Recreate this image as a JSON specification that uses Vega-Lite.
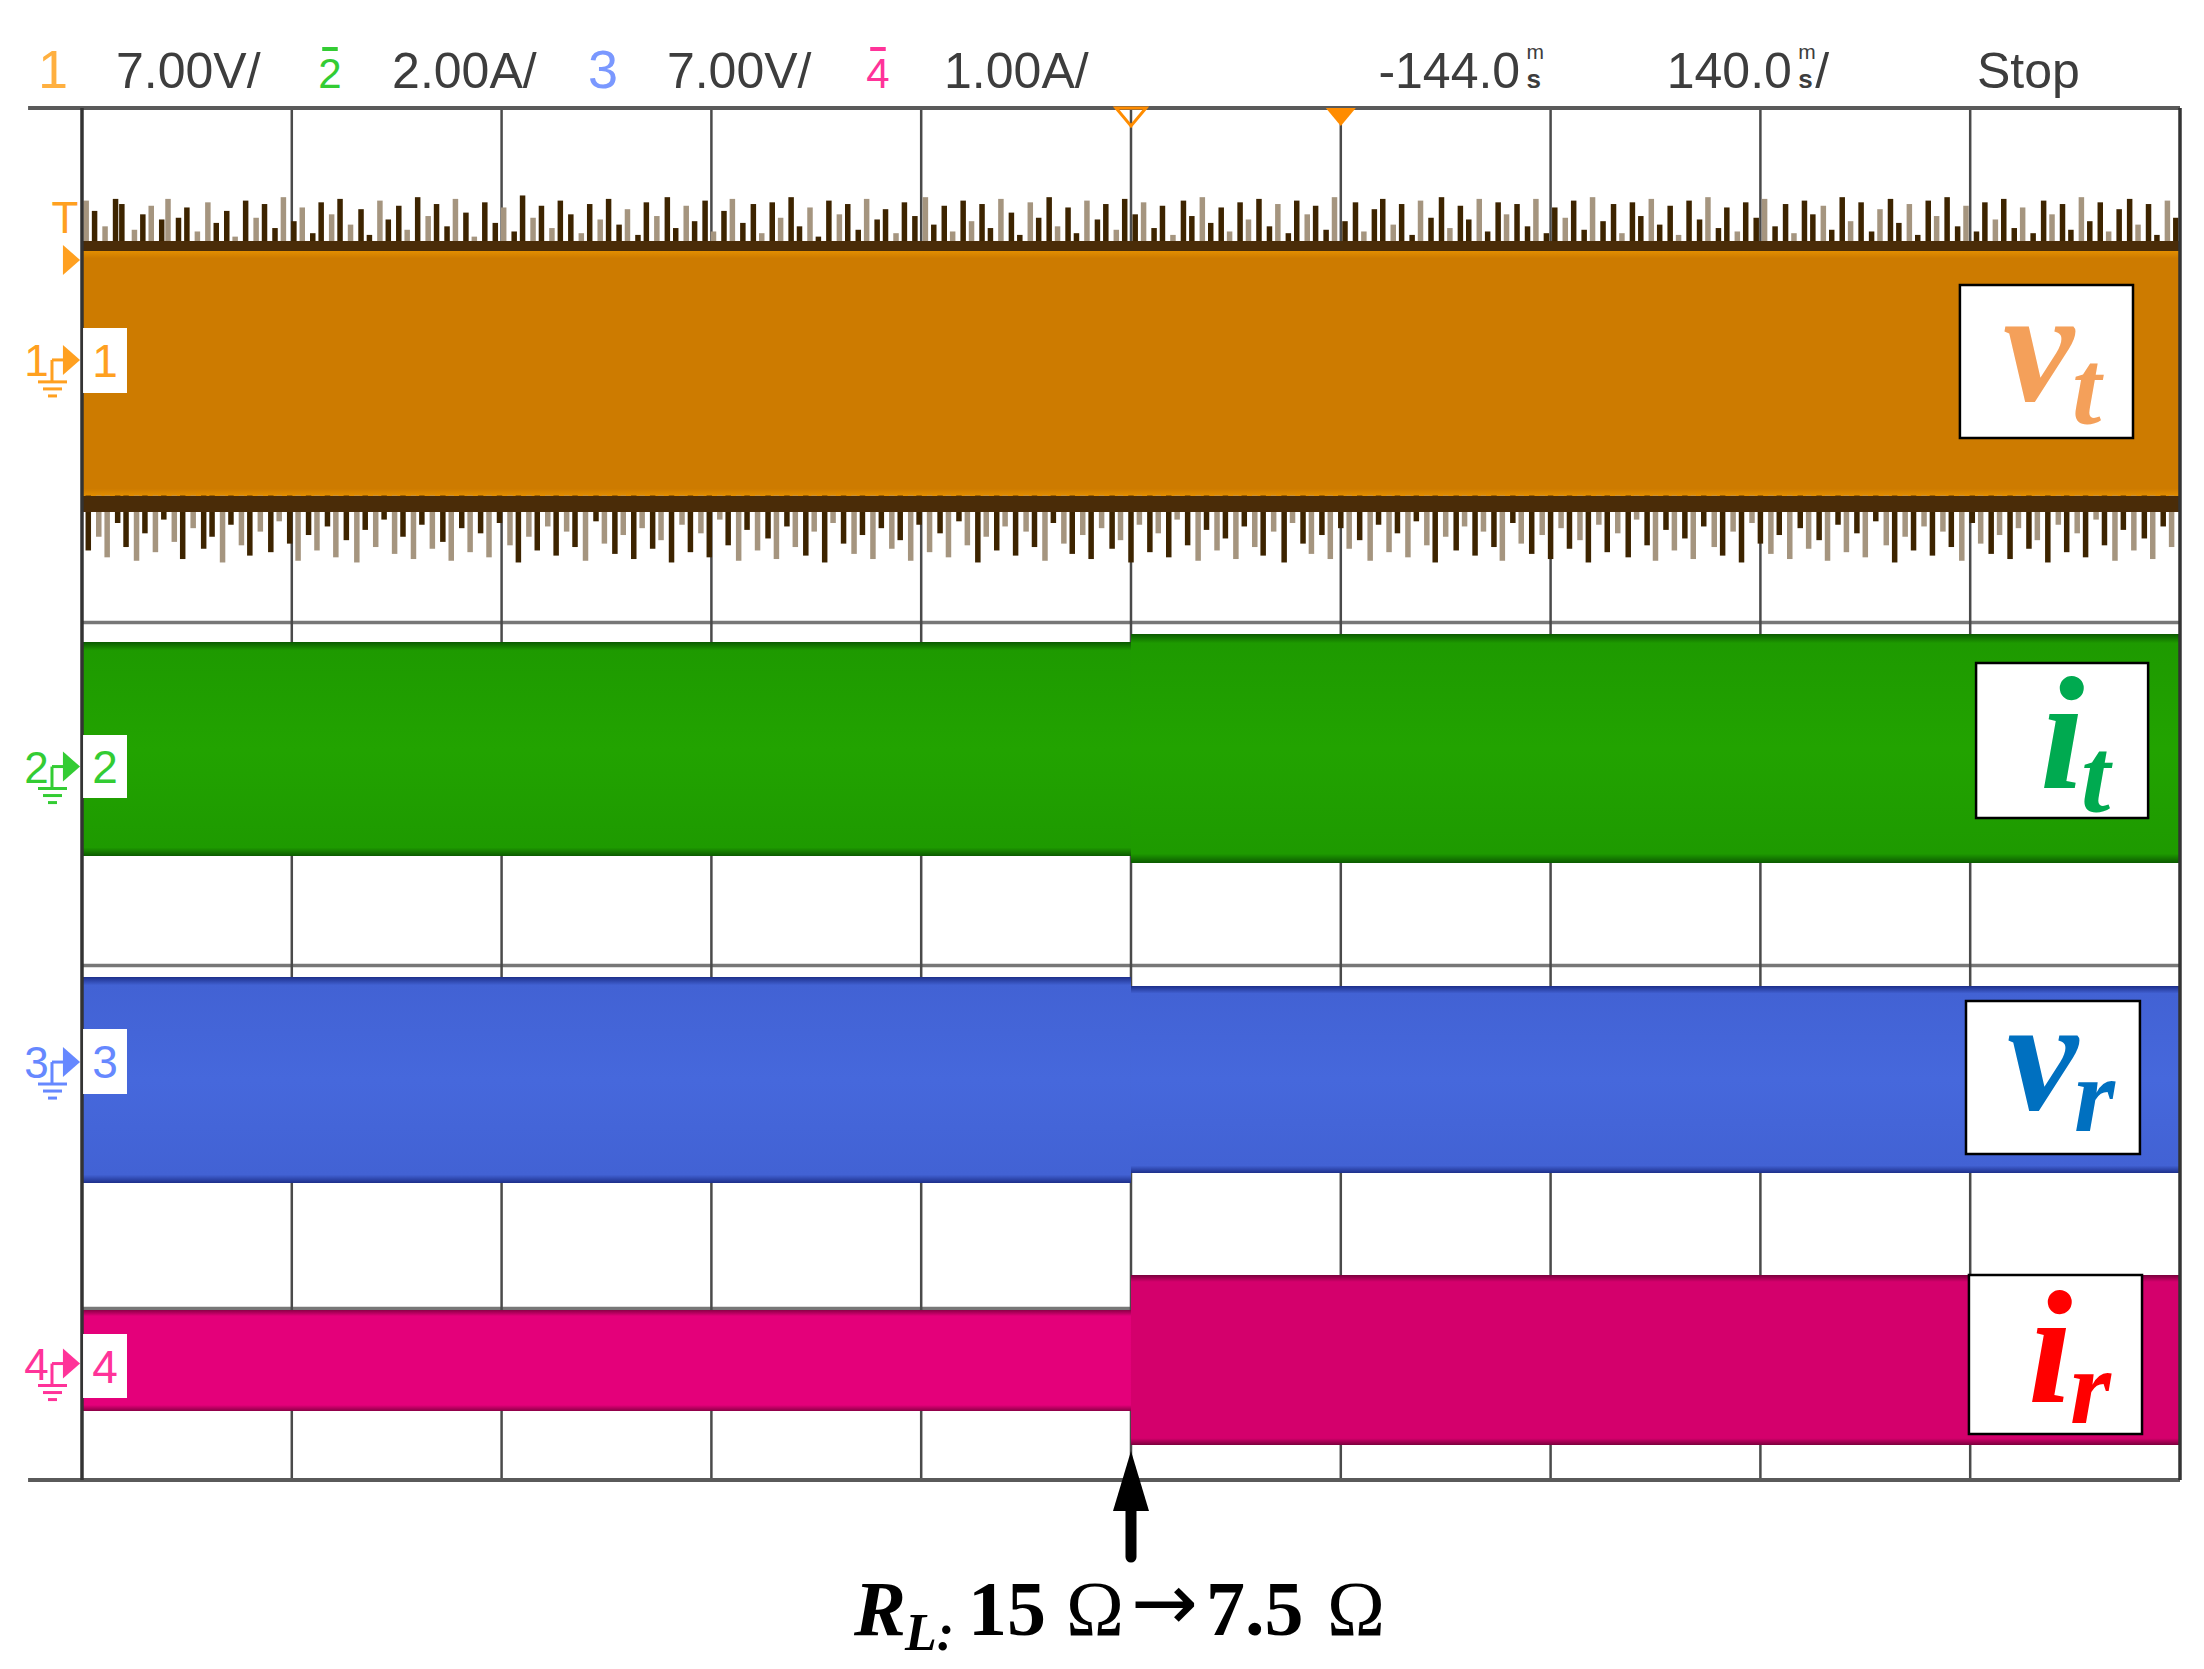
{
"$schema": "https://vega.github.io/schema/vega-lite/v6.json",
"width": 2204, "height": 1669, "padding": 0, "autosize": {"type": "none"},
"background": "white",
"config": {"view": {"stroke": null}},
"resolve": {"scale": {"color": "independent"}},
"encoding": {
 "x": {"field": "x", "type": "quantitative", "scale": {"domain": [-0.3908, 10.1144], "nice": false, "zero": false}, "axis": null},
 "y": {"field": "y", "type": "quantitative", "scale": {"domain": [-1.102, 8.6297], "nice": false, "zero": false}, "axis": null}
},
"datasets": {
 "gridV": [{"x":1,"y":0,"y2":8},{"x":2,"y":0,"y2":8},{"x":3,"y":0,"y2":8},{"x":4,"y":0,"y2":8},{"x":5,"y":0,"y2":8},{"x":6,"y":0,"y2":8},{"x":7,"y":0,"y2":8},{"x":8,"y":0,"y2":8},{"x":9,"y":0,"y2":8}],
 "gridH": [{"x":0,"x2":10,"y":1},{"x":0,"x2":10,"y":2},{"x":0,"x2":10,"y":3},{"x":0,"x2":10,"y":4},{"x":0,"x2":10,"y":5},{"x":0,"x2":10,"y":6},{"x":0,"x2":10,"y":7}],
 "ticks": [{"y":0.2},{"y":0.4},{"y":0.6},{"y":0.8},{"y":1.2},{"y":1.4},{"y":1.6},{"y":1.8},{"y":2.2},{"y":2.4},{"y":2.6},{"y":2.8},{"y":3.2},{"y":3.4},{"y":3.6},{"y":3.8},{"y":4.2},{"y":4.4},{"y":4.6},{"y":4.8},{"y":5.2},{"y":5.4},{"y":5.6},{"y":5.8},{"y":6.2},{"y":6.4},{"y":6.6},{"y":6.8},{"y":7.2},{"y":7.4},{"y":7.6},{"y":7.8}],
 "borderH": [{"x":-0.257,"x2":10,"y":8},{"x":-0.257,"x2":10,"y":0}],
 "borderV": [{"x":0,"y":0,"y2":8},{"x":10,"y":0,"y2":8}],
 "bands": [
  {"id":"o","x":0,"x2":10,"y":7.166,"y2":5.738},
  {"id":"g","x":0,"x2":5,"y":4.886,"y2":3.638},
  {"id":"g","x":5,"x2":10,"y":4.933,"y2":3.598},
  {"id":"b","x":0,"x2":5,"y":2.933,"y2":1.732},
  {"id":"b","x":5,"x2":10,"y":2.88,"y2":1.79},
  {"id":"pl","x":0,"x2":5,"y":0.991,"y2":0.402},
  {"id":"pr","x":5,"x2":10,"y":1.195,"y2":0.204}
 ],
 "strips": [{"x":0,"x2":10,"y":7.225,"y2":7.166},{"x":0,"x2":10,"y":5.738,"y2":5.645}],
 "spikesTop": [
{"x":0.02,"y":7.46,"k":"l"},{"x":0.06,"y":7.4,"k":"d"},{"x":0.11,"y":7.31,"k":"l"},{"x":0.16,"y":7.47,"k":"d"},{"x":0.19,"y":7.44,"k":"d"},{"x":0.25,"y":7.29,"k":"l"},{"x":0.29,"y":7.38,"k":"d"},{"x":0.33,"y":7.43,"k":"l"},{"x":0.38,"y":7.35,"k":"d"},{"x":0.41,"y":7.47,"k":"l"},{"x":0.46,"y":7.36,"k":"d"},{"x":0.5,"y":7.42,"k":"d"},{"x":0.55,"y":7.28,"k":"l"},{"x":0.6,"y":7.45,"k":"l"},{"x":0.64,"y":7.33,"k":"d"},{"x":0.69,"y":7.4,"k":"d"},{"x":0.73,"y":7.25,"k":"l"},{"x":0.78,"y":7.46,"k":"d"},{"x":0.83,"y":7.36,"k":"l"},{"x":0.87,"y":7.44,"k":"d"},{"x":0.92,"y":7.3,"k":"d"},{"x":0.96,"y":7.48,"k":"l"},{"x":1.01,"y":7.34,"k":"d"},{"x":1.05,"y":7.42,"k":"l"},{"x":1.1,"y":7.27,"k":"d"},{"x":1.14,"y":7.45,"k":"d"},{"x":1.19,"y":7.38,"k":"l"},{"x":1.23,"y":7.47,"k":"d"},{"x":1.28,"y":7.32,"k":"l"},{"x":1.33,"y":7.41,"k":"d"},{"x":1.37,"y":7.26,"k":"d"},{"x":1.42,"y":7.46,"k":"l"},{"x":1.46,"y":7.35,"k":"d"},{"x":1.51,"y":7.43,"k":"d"},{"x":1.55,"y":7.29,"k":"l"},{"x":1.6,"y":7.48,"k":"d"},{"x":1.65,"y":7.37,"k":"l"},{"x":1.69,"y":7.44,"k":"d"},{"x":1.74,"y":7.31,"k":"d"},{"x":1.78,"y":7.47,"k":"l"},{"x":1.83,"y":7.39,"k":"d"},{"x":1.87,"y":7.25,"k":"l"},{"x":1.92,"y":7.45,"k":"d"},{"x":1.97,"y":7.33,"k":"d"},{"x":2.01,"y":7.42,"k":"l"},{"x":2.06,"y":7.28,"k":"d"},{"x":2.1,"y":7.49,"k":"d"},{"x":2.15,"y":7.36,"k":"l"},{"x":2.19,"y":7.43,"k":"d"},{"x":2.24,"y":7.3,"k":"l"},{"x":2.28,"y":7.46,"k":"d"},{"x":2.33,"y":7.38,"k":"d"},{"x":2.38,"y":7.27,"k":"l"},{"x":2.42,"y":7.44,"k":"d"},{"x":2.47,"y":7.35,"k":"l"},{"x":2.51,"y":7.47,"k":"d"},{"x":2.56,"y":7.32,"k":"d"},{"x":2.6,"y":7.41,"k":"l"},{"x":2.65,"y":7.26,"k":"d"},{"x":2.69,"y":7.45,"k":"d"},{"x":2.74,"y":7.37,"k":"l"},{"x":2.79,"y":7.48,"k":"d"},{"x":2.83,"y":7.3,"k":"d"},{"x":2.88,"y":7.43,"k":"l"},{"x":2.92,"y":7.34,"k":"d"},{"x":2.97,"y":7.46,"k":"d"},{"x":3.01,"y":7.28,"k":"l"},{"x":3.06,"y":7.4,"k":"d"},{"x":3.1,"y":7.47,"k":"l"},{"x":3.15,"y":7.33,"k":"d"},{"x":3.2,"y":7.44,"k":"d"},{"x":3.24,"y":7.27,"k":"l"},{"x":3.29,"y":7.45,"k":"d"},{"x":3.33,"y":7.36,"k":"l"},{"x":3.38,"y":7.48,"k":"d"},{"x":3.42,"y":7.31,"k":"d"},{"x":3.47,"y":7.42,"k":"l"},{"x":3.51,"y":7.25,"k":"d"},{"x":3.56,"y":7.46,"k":"d"},{"x":3.61,"y":7.38,"k":"l"},{"x":3.65,"y":7.44,"k":"d"},{"x":3.7,"y":7.29,"k":"d"},{"x":3.74,"y":7.47,"k":"l"},{"x":3.79,"y":7.35,"k":"d"},{"x":3.83,"y":7.41,"k":"d"},{"x":3.88,"y":7.27,"k":"l"},{"x":3.92,"y":7.45,"k":"d"},{"x":3.97,"y":7.37,"k":"d"},{"x":4.02,"y":7.48,"k":"l"},{"x":4.06,"y":7.32,"k":"d"},{"x":4.11,"y":7.43,"k":"d"},{"x":4.15,"y":7.28,"k":"l"},{"x":4.2,"y":7.46,"k":"d"},{"x":4.24,"y":7.34,"k":"l"},{"x":4.29,"y":7.44,"k":"d"},{"x":4.33,"y":7.3,"k":"d"},{"x":4.38,"y":7.47,"k":"l"},{"x":4.43,"y":7.39,"k":"d"},{"x":4.47,"y":7.26,"k":"d"},{"x":4.52,"y":7.45,"k":"l"},{"x":4.56,"y":7.36,"k":"d"},{"x":4.61,"y":7.48,"k":"d"},{"x":4.65,"y":7.31,"k":"l"},{"x":4.7,"y":7.42,"k":"d"},{"x":4.74,"y":7.27,"k":"d"},{"x":4.79,"y":7.46,"k":"l"},{"x":4.84,"y":7.35,"k":"d"},{"x":4.88,"y":7.44,"k":"d"},{"x":4.93,"y":7.29,"k":"l"},{"x":4.97,"y":7.47,"k":"d"},{"x":5.02,"y":7.38,"k":"d"},{"x":5.06,"y":7.45,"k":"l"},{"x":5.11,"y":7.3,"k":"d"},{"x":5.15,"y":7.43,"k":"d"},{"x":5.2,"y":7.26,"k":"l"},{"x":5.25,"y":7.46,"k":"d"},{"x":5.29,"y":7.37,"k":"d"},{"x":5.34,"y":7.48,"k":"l"},{"x":5.38,"y":7.33,"k":"d"},{"x":5.43,"y":7.42,"k":"d"},{"x":5.47,"y":7.28,"k":"l"},{"x":5.52,"y":7.45,"k":"d"},{"x":5.56,"y":7.35,"k":"l"},{"x":5.61,"y":7.47,"k":"d"},{"x":5.66,"y":7.31,"k":"d"},{"x":5.7,"y":7.44,"k":"l"},{"x":5.75,"y":7.27,"k":"d"},{"x":5.79,"y":7.46,"k":"d"},{"x":5.84,"y":7.38,"k":"l"},{"x":5.88,"y":7.43,"k":"d"},{"x":5.93,"y":7.29,"k":"d"},{"x":5.97,"y":7.48,"k":"l"},{"x":6.02,"y":7.34,"k":"d"},{"x":6.07,"y":7.45,"k":"d"},{"x":6.11,"y":7.28,"k":"l"},{"x":6.16,"y":7.41,"k":"d"},{"x":6.2,"y":7.47,"k":"d"},{"x":6.25,"y":7.32,"k":"l"},{"x":6.29,"y":7.44,"k":"d"},{"x":6.34,"y":7.26,"k":"d"},{"x":6.38,"y":7.46,"k":"l"},{"x":6.43,"y":7.36,"k":"d"},{"x":6.48,"y":7.48,"k":"d"},{"x":6.52,"y":7.3,"k":"l"},{"x":6.57,"y":7.43,"k":"d"},{"x":6.61,"y":7.35,"k":"d"},{"x":6.66,"y":7.47,"k":"l"},{"x":6.7,"y":7.28,"k":"d"},{"x":6.75,"y":7.45,"k":"d"},{"x":6.79,"y":7.38,"k":"l"},{"x":6.84,"y":7.44,"k":"d"},{"x":6.89,"y":7.31,"k":"d"},{"x":6.93,"y":7.47,"k":"l"},{"x":6.98,"y":7.27,"k":"d"},{"x":7.02,"y":7.42,"k":"d"},{"x":7.07,"y":7.36,"k":"l"},{"x":7.11,"y":7.46,"k":"d"},{"x":7.16,"y":7.29,"k":"d"},{"x":7.2,"y":7.48,"k":"l"},{"x":7.25,"y":7.34,"k":"d"},{"x":7.3,"y":7.44,"k":"d"},{"x":7.34,"y":7.27,"k":"l"},{"x":7.39,"y":7.45,"k":"d"},{"x":7.43,"y":7.37,"k":"d"},{"x":7.48,"y":7.47,"k":"l"},{"x":7.52,"y":7.32,"k":"d"},{"x":7.57,"y":7.43,"k":"d"},{"x":7.61,"y":7.26,"k":"l"},{"x":7.66,"y":7.46,"k":"d"},{"x":7.71,"y":7.35,"k":"d"},{"x":7.75,"y":7.48,"k":"l"},{"x":7.8,"y":7.3,"k":"d"},{"x":7.84,"y":7.42,"k":"d"},{"x":7.89,"y":7.28,"k":"l"},{"x":7.93,"y":7.45,"k":"d"},{"x":7.98,"y":7.36,"k":"d"},{"x":8.02,"y":7.47,"k":"l"},{"x":8.07,"y":7.31,"k":"d"},{"x":8.12,"y":7.44,"k":"d"},{"x":8.16,"y":7.27,"k":"l"},{"x":8.21,"y":7.46,"k":"d"},{"x":8.25,"y":7.38,"k":"d"},{"x":8.3,"y":7.43,"k":"l"},{"x":8.34,"y":7.29,"k":"d"},{"x":8.39,"y":7.48,"k":"d"},{"x":8.43,"y":7.34,"k":"l"},{"x":8.48,"y":7.45,"k":"d"},{"x":8.53,"y":7.28,"k":"d"},{"x":8.57,"y":7.41,"k":"l"},{"x":8.62,"y":7.47,"k":"d"},{"x":8.66,"y":7.33,"k":"d"},{"x":8.71,"y":7.44,"k":"l"},{"x":8.75,"y":7.26,"k":"d"},{"x":8.8,"y":7.46,"k":"d"},{"x":8.84,"y":7.37,"k":"l"},{"x":8.89,"y":7.48,"k":"d"},{"x":8.94,"y":7.31,"k":"d"},{"x":8.98,"y":7.43,"k":"l"},{"x":9.03,"y":7.28,"k":"d"},{"x":9.07,"y":7.45,"k":"d"},{"x":9.12,"y":7.35,"k":"l"},{"x":9.16,"y":7.47,"k":"d"},{"x":9.21,"y":7.3,"k":"d"},{"x":9.25,"y":7.42,"k":"l"},{"x":9.3,"y":7.27,"k":"d"},{"x":9.35,"y":7.46,"k":"d"},{"x":9.39,"y":7.38,"k":"l"},{"x":9.44,"y":7.44,"k":"d"},{"x":9.48,"y":7.29,"k":"d"},{"x":9.53,"y":7.48,"k":"l"},{"x":9.57,"y":7.34,"k":"d"},{"x":9.62,"y":7.45,"k":"d"},{"x":9.66,"y":7.28,"k":"l"},{"x":9.71,"y":7.41,"k":"d"},{"x":9.76,"y":7.47,"k":"d"},{"x":9.8,"y":7.32,"k":"l"},{"x":9.85,"y":7.44,"k":"d"},{"x":9.89,"y":7.26,"k":"d"},{"x":9.94,"y":7.46,"k":"l"},{"x":9.98,"y":7.36,"k":"d"}
 ],
 "spikesBot": [
{"x":0.03,"y":5.42,"k":"d"},{"x":0.08,"y":5.5,"k":"l"},{"x":0.12,"y":5.38,"k":"l"},{"x":0.17,"y":5.58,"k":"d"},{"x":0.21,"y":5.44,"k":"d"},{"x":0.26,"y":5.36,"k":"l"},{"x":0.3,"y":5.52,"k":"d"},{"x":0.35,"y":5.41,"k":"l"},{"x":0.39,"y":5.6,"k":"d"},{"x":0.44,"y":5.47,"k":"l"},{"x":0.48,"y":5.37,"k":"d"},{"x":0.53,"y":5.55,"k":"l"},{"x":0.58,"y":5.43,"k":"d"},{"x":0.62,"y":5.5,"k":"d"},{"x":0.67,"y":5.35,"k":"l"},{"x":0.71,"y":5.57,"k":"d"},{"x":0.76,"y":5.45,"k":"l"},{"x":0.8,"y":5.39,"k":"d"},{"x":0.85,"y":5.53,"k":"l"},{"x":0.9,"y":5.41,"k":"d"},{"x":0.94,"y":5.59,"k":"l"},{"x":0.99,"y":5.46,"k":"d"},{"x":1.03,"y":5.36,"k":"l"},{"x":1.08,"y":5.51,"k":"d"},{"x":1.12,"y":5.42,"k":"l"},{"x":1.17,"y":5.56,"k":"d"},{"x":1.21,"y":5.38,"k":"l"},{"x":1.26,"y":5.48,"k":"d"},{"x":1.31,"y":5.35,"k":"l"},{"x":1.35,"y":5.54,"k":"d"},{"x":1.4,"y":5.44,"k":"l"},{"x":1.44,"y":5.6,"k":"d"},{"x":1.49,"y":5.4,"k":"l"},{"x":1.53,"y":5.5,"k":"d"},{"x":1.58,"y":5.37,"k":"l"},{"x":1.62,"y":5.57,"k":"d"},{"x":1.67,"y":5.43,"k":"l"},{"x":1.72,"y":5.47,"k":"d"},{"x":1.76,"y":5.36,"k":"l"},{"x":1.81,"y":5.55,"k":"d"},{"x":1.85,"y":5.41,"k":"l"},{"x":1.9,"y":5.52,"k":"d"},{"x":1.94,"y":5.38,"k":"l"},{"x":1.99,"y":5.58,"k":"d"},{"x":2.04,"y":5.45,"k":"l"},{"x":2.08,"y":5.35,"k":"d"},{"x":2.13,"y":5.5,"k":"l"},{"x":2.17,"y":5.42,"k":"d"},{"x":2.22,"y":5.56,"k":"l"},{"x":2.26,"y":5.39,"k":"d"},{"x":2.31,"y":5.53,"k":"l"},{"x":2.35,"y":5.44,"k":"d"},{"x":2.4,"y":5.36,"k":"l"},{"x":2.45,"y":5.59,"k":"d"},{"x":2.49,"y":5.46,"k":"l"},{"x":2.54,"y":5.4,"k":"d"},{"x":2.58,"y":5.51,"k":"l"},{"x":2.63,"y":5.37,"k":"d"},{"x":2.67,"y":5.55,"k":"l"},{"x":2.72,"y":5.43,"k":"d"},{"x":2.76,"y":5.48,"k":"l"},{"x":2.81,"y":5.35,"k":"d"},{"x":2.86,"y":5.57,"k":"l"},{"x":2.9,"y":5.41,"k":"d"},{"x":2.95,"y":5.52,"k":"l"},{"x":2.99,"y":5.38,"k":"d"},{"x":3.04,"y":5.6,"k":"l"},{"x":3.08,"y":5.45,"k":"d"},{"x":3.13,"y":5.36,"k":"l"},{"x":3.17,"y":5.54,"k":"d"},{"x":3.22,"y":5.42,"k":"l"},{"x":3.27,"y":5.49,"k":"d"},{"x":3.31,"y":5.37,"k":"l"},{"x":3.36,"y":5.56,"k":"d"},{"x":3.4,"y":5.44,"k":"l"},{"x":3.45,"y":5.39,"k":"d"},{"x":3.49,"y":5.53,"k":"l"},{"x":3.54,"y":5.35,"k":"d"},{"x":3.58,"y":5.58,"k":"l"},{"x":3.63,"y":5.46,"k":"d"},{"x":3.68,"y":5.4,"k":"l"},{"x":3.72,"y":5.51,"k":"d"},{"x":3.77,"y":5.37,"k":"l"},{"x":3.81,"y":5.55,"k":"d"},{"x":3.86,"y":5.43,"k":"l"},{"x":3.9,"y":5.48,"k":"d"},{"x":3.95,"y":5.36,"k":"l"},{"x":3.99,"y":5.57,"k":"d"},{"x":4.04,"y":5.41,"k":"l"},{"x":4.09,"y":5.52,"k":"d"},{"x":4.13,"y":5.38,"k":"l"},{"x":4.18,"y":5.59,"k":"d"},{"x":4.22,"y":5.45,"k":"l"},{"x":4.27,"y":5.35,"k":"d"},{"x":4.31,"y":5.5,"k":"l"},{"x":4.36,"y":5.42,"k":"d"},{"x":4.4,"y":5.56,"k":"l"},{"x":4.45,"y":5.39,"k":"d"},{"x":4.5,"y":5.53,"k":"l"},{"x":4.54,"y":5.44,"k":"d"},{"x":4.59,"y":5.36,"k":"l"},{"x":4.63,"y":5.58,"k":"d"},{"x":4.68,"y":5.46,"k":"l"},{"x":4.72,"y":5.4,"k":"d"},{"x":4.77,"y":5.51,"k":"l"},{"x":4.81,"y":5.37,"k":"d"},{"x":4.86,"y":5.55,"k":"l"},{"x":4.91,"y":5.43,"k":"d"},{"x":4.95,"y":5.48,"k":"l"},{"x":5.0,"y":5.35,"k":"d"},{"x":5.04,"y":5.57,"k":"l"},{"x":5.09,"y":5.41,"k":"d"},{"x":5.13,"y":5.52,"k":"l"},{"x":5.18,"y":5.38,"k":"d"},{"x":5.22,"y":5.6,"k":"l"},{"x":5.27,"y":5.45,"k":"d"},{"x":5.32,"y":5.36,"k":"l"},{"x":5.36,"y":5.54,"k":"d"},{"x":5.41,"y":5.42,"k":"l"},{"x":5.45,"y":5.49,"k":"d"},{"x":5.5,"y":5.37,"k":"l"},{"x":5.54,"y":5.56,"k":"d"},{"x":5.59,"y":5.44,"k":"l"},{"x":5.63,"y":5.39,"k":"d"},{"x":5.68,"y":5.53,"k":"l"},{"x":5.73,"y":5.35,"k":"d"},{"x":5.77,"y":5.58,"k":"l"},{"x":5.82,"y":5.46,"k":"d"},{"x":5.86,"y":5.4,"k":"l"},{"x":5.91,"y":5.51,"k":"d"},{"x":5.95,"y":5.37,"k":"l"},{"x":6.0,"y":5.55,"k":"d"},{"x":6.04,"y":5.43,"k":"l"},{"x":6.09,"y":5.48,"k":"d"},{"x":6.14,"y":5.36,"k":"l"},{"x":6.18,"y":5.57,"k":"d"},{"x":6.23,"y":5.41,"k":"l"},{"x":6.27,"y":5.52,"k":"d"},{"x":6.32,"y":5.38,"k":"l"},{"x":6.36,"y":5.59,"k":"d"},{"x":6.41,"y":5.45,"k":"l"},{"x":6.45,"y":5.35,"k":"d"},{"x":6.5,"y":5.5,"k":"l"},{"x":6.55,"y":5.42,"k":"d"},{"x":6.59,"y":5.56,"k":"l"},{"x":6.64,"y":5.39,"k":"d"},{"x":6.68,"y":5.53,"k":"l"},{"x":6.73,"y":5.44,"k":"d"},{"x":6.77,"y":5.36,"k":"l"},{"x":6.82,"y":5.58,"k":"d"},{"x":6.86,"y":5.46,"k":"l"},{"x":6.91,"y":5.4,"k":"d"},{"x":6.96,"y":5.51,"k":"l"},{"x":7.0,"y":5.37,"k":"d"},{"x":7.05,"y":5.55,"k":"l"},{"x":7.09,"y":5.43,"k":"d"},{"x":7.14,"y":5.48,"k":"l"},{"x":7.18,"y":5.35,"k":"d"},{"x":7.23,"y":5.57,"k":"l"},{"x":7.27,"y":5.41,"k":"d"},{"x":7.32,"y":5.52,"k":"l"},{"x":7.37,"y":5.38,"k":"d"},{"x":7.41,"y":5.6,"k":"l"},{"x":7.46,"y":5.45,"k":"d"},{"x":7.5,"y":5.36,"k":"l"},{"x":7.55,"y":5.54,"k":"d"},{"x":7.59,"y":5.42,"k":"l"},{"x":7.64,"y":5.49,"k":"d"},{"x":7.68,"y":5.37,"k":"l"},{"x":7.73,"y":5.56,"k":"d"},{"x":7.78,"y":5.44,"k":"l"},{"x":7.82,"y":5.39,"k":"d"},{"x":7.87,"y":5.53,"k":"l"},{"x":7.91,"y":5.35,"k":"d"},{"x":7.96,"y":5.58,"k":"l"},{"x":8.0,"y":5.46,"k":"d"},{"x":8.05,"y":5.4,"k":"l"},{"x":8.09,"y":5.51,"k":"d"},{"x":8.14,"y":5.37,"k":"l"},{"x":8.19,"y":5.55,"k":"d"},{"x":8.23,"y":5.43,"k":"l"},{"x":8.28,"y":5.48,"k":"d"},{"x":8.32,"y":5.36,"k":"l"},{"x":8.37,"y":5.57,"k":"d"},{"x":8.41,"y":5.41,"k":"l"},{"x":8.46,"y":5.52,"k":"d"},{"x":8.5,"y":5.38,"k":"l"},{"x":8.55,"y":5.59,"k":"d"},{"x":8.6,"y":5.45,"k":"l"},{"x":8.64,"y":5.35,"k":"d"},{"x":8.69,"y":5.5,"k":"l"},{"x":8.73,"y":5.42,"k":"d"},{"x":8.78,"y":5.56,"k":"l"},{"x":8.82,"y":5.39,"k":"d"},{"x":8.87,"y":5.53,"k":"l"},{"x":8.91,"y":5.44,"k":"d"},{"x":8.96,"y":5.36,"k":"l"},{"x":9.01,"y":5.58,"k":"d"},{"x":9.05,"y":5.46,"k":"l"},{"x":9.1,"y":5.4,"k":"d"},{"x":9.14,"y":5.51,"k":"l"},{"x":9.19,"y":5.37,"k":"d"},{"x":9.23,"y":5.55,"k":"l"},{"x":9.28,"y":5.43,"k":"d"},{"x":9.32,"y":5.48,"k":"l"},{"x":9.37,"y":5.35,"k":"d"},{"x":9.42,"y":5.57,"k":"l"},{"x":9.46,"y":5.41,"k":"d"},{"x":9.51,"y":5.52,"k":"l"},{"x":9.55,"y":5.38,"k":"d"},{"x":9.6,"y":5.6,"k":"l"},{"x":9.64,"y":5.45,"k":"d"},{"x":9.69,"y":5.36,"k":"l"},{"x":9.73,"y":5.54,"k":"d"},{"x":9.78,"y":5.42,"k":"l"},{"x":9.83,"y":5.49,"k":"d"},{"x":9.87,"y":5.37,"k":"l"},{"x":9.92,"y":5.56,"k":"d"},{"x":9.96,"y":5.44,"k":"l"}
 ],
 "chBoxes": [{"ch":"1","x":0.005,"x2":0.2145,"y":6.717,"y2":6.338,"yt":6.431},{"ch":"2","x":0.005,"x2":0.2145,"y":4.344,"y2":3.977,"yt":4.064},{"ch":"3","x":0.005,"x2":0.2145,"y":2.63,"y2":2.251,"yt":2.344},{"ch":"4","x":0.005,"x2":0.2145,"y":0.851,"y2":0.478,"yt":0.566}],
 "chArrows": [{"ch":"1","x":-0.05,"y":6.531},{"ch":"2","x":-0.05,"y":4.16},{"ch":"3","x":-0.05,"y":2.437},{"ch":"4","x":-0.05,"y":0.679},{"ch":"1","x":-0.05,"y":7.114}],
 "chNums": [{"ch":"1","t":"1","x":-0.2168,"y":6.438},{"ch":"2","t":"2","x":-0.2168,"y":4.067},{"ch":"3","t":"3","x":-0.2168,"y":2.344},{"ch":"4","t":"4","x":-0.2168,"y":0.586},{"ch":"1","t":"T","x":-0.081,"y":7.271}],
 "ground": [
  {"ch":"1","x":-0.143,"x2":-0.143,"y":6.531,"y2":6.403},{"ch":"1","x":-0.143,"x2":-0.0715,"y":6.531,"y2":6.531},{"ch":"1","x":-0.2097,"x2":-0.0715,"y":6.403,"y2":6.403},{"ch":"1","x":-0.1859,"x2":-0.0953,"y":6.362,"y2":6.362},{"ch":"1","x":-0.1621,"x2":-0.1192,"y":6.321,"y2":6.321},
  {"ch":"2","x":-0.143,"x2":-0.143,"y":4.16,"y2":4.032},{"ch":"2","x":-0.143,"x2":-0.0715,"y":4.16,"y2":4.16},{"ch":"2","x":-0.2097,"x2":-0.0715,"y":4.032,"y2":4.032},{"ch":"2","x":-0.1859,"x2":-0.0953,"y":3.991,"y2":3.991},{"ch":"2","x":-0.1621,"x2":-0.1192,"y":3.95,"y2":3.95},
  {"ch":"3","x":-0.143,"x2":-0.143,"y":2.437,"y2":2.309},{"ch":"3","x":-0.143,"x2":-0.0715,"y":2.437,"y2":2.437},{"ch":"3","x":-0.2097,"x2":-0.0715,"y":2.309,"y2":2.309},{"ch":"3","x":-0.1859,"x2":-0.0953,"y":2.268,"y2":2.268},{"ch":"3","x":-0.1621,"x2":-0.1192,"y":2.227,"y2":2.227},
  {"ch":"4","x":-0.143,"x2":-0.143,"y":0.679,"y2":0.551},{"ch":"4","x":-0.143,"x2":-0.0715,"y":0.679,"y2":0.679},{"ch":"4","x":-0.2097,"x2":-0.0715,"y":0.551,"y2":0.551},{"ch":"4","x":-0.1859,"x2":-0.0953,"y":0.51,"y2":0.51},{"ch":"4","x":-0.1621,"x2":-0.1192,"y":0.469,"y2":0.469}
 ],
 "labelBoxes": [{"x":8.951,"x2":9.776,"y":6.968,"y2":6.076},{"x":9.028,"x2":9.848,"y":4.764,"y2":3.86},{"x":8.98,"x2":9.809,"y":2.793,"y2":1.901},{"x":8.994,"x2":9.819,"y":1.195,"y2":0.268}],
 "labelBig": [{"s":"vt","t":"v","x":9.156,"y":6.297},{"s":"it","t":"i","x":9.333,"y":4.035},{"s":"vr","t":"v","x":9.175,"y":2.163},{"s":"ir","t":"i","x":9.275,"y":0.455}],
 "labelSub": [{"s":"vt","t":"t","x":9.485,"y":6.163},{"s":"it","t":"t","x":9.528,"y":3.901},{"s":"vr","t":"r","x":9.495,"y":2.035},{"s":"ir","t":"r","x":9.476,"y":0.332}],
 "headVals": [{"t":"7.00V/","x":0.162,"y":8.1166},{"t":"2.00A/","x":1.478,"y":8.1166},{"t":"7.00V/","x":2.788,"y":8.1166},{"t":"1.00A/","x":4.109,"y":8.1166},{"t":"/","x":8.262,"y":8.1166},{"t":"Stop","x":9.032,"y":8.1166}],
 "headValsR": [{"t":"-144.0","x":6.855,"y":8.1166},{"t":"140.0","x":8.15,"y":8.1166}],
 "headM": [{"t":"m","x":6.885,"y":8.2857},{"t":"m","x":8.18,"y":8.2857}],
 "headS": [{"t":"s","x":6.885,"y":8.1166},{"t":"s","x":8.18,"y":8.1166}],
 "headChBig": [{"ch":"1","t":"1","x":-0.138,"y":8.1166},{"ch":"3","t":"3","x":2.483,"y":8.1166}],
 "headChSmall": [{"ch":"2","t":"2","x":1.182,"y":8.1166},{"ch":"4","t":"4","x":3.794,"y":8.1166}],
 "headBars": [{"ch":"2","x":1.145,"x2":1.219,"y":8.344},{"ch":"4","x":3.757,"x2":3.831,"y":8.344}],
 "trigFilled": [{"x":6,"y":7.948}],
 "trigHollow": [{"x":5,"y":7.948}],
 "annoArrowShaft": [{"x":5,"y":-0.449,"y2":-0.181}],
 "annoArrowHead": [{"x":5,"y":-0.006}],
 "annoBoldItalic": [{"t":"R","x":3.68,"y":-0.904}],
 "annoSub": [{"t":"L:","x":3.923,"y":-0.991}],
 "annoBold": [{"t":"15","x":4.223,"y":-0.904},{"t":"7.5","x":5.357,"y":-0.904}],
 "annoReg": [{"t":"Ω","x":4.69,"y":-0.904},{"t":"Ω","x":5.934,"y":-0.904}],
 "annoArrowSym": [{"t":"→","x":5.0,"y":-0.735}]
},
"layer": [
 {"data": {"name": "gridH"}, "mark": {"type": "rule", "color": "#777777", "strokeWidth": 3.5}, "encoding": {"x2": {"field": "x2"}}},
 {"data": {"name": "gridV"}, "mark": {"type": "rule", "color": "#4a4a4a", "strokeWidth": 2.5}, "encoding": {"y2": {"field": "y2"}}},
 {"data": {"name": "ticks"}, "mark": {"type": "rule", "color": "#555555", "strokeWidth": 3}, "encoding": {"x": {"datum": 4.962}, "x2": {"datum": 5.038}}},
 {"data": {"name": "bands"}, "transform": [{"filter": "datum.id === 'o'"}], "mark": {"type": "rect", "color": {"gradient": "linear", "x1": 0, "y1": 0, "x2": 0, "y2": 1, "stops": [{"offset": 0, "color": "#e38e00"}, {"offset": 0.03, "color": "#cd7b00"}, {"offset": 0.97, "color": "#cd7b00"}, {"offset": 1, "color": "#e38e00"}]}}, "encoding": {"x2": {"field": "x2"}, "y2": {"field": "y2"}}},
 {"data": {"name": "bands"}, "transform": [{"filter": "datum.id === 'g'"}], "mark": {"type": "rect", "color": {"gradient": "linear", "x1": 0, "y1": 0, "x2": 0, "y2": 1, "stops": [{"offset": 0, "color": "#0b5a00"}, {"offset": 0.04, "color": "#1e9a00"}, {"offset": 0.5, "color": "#22a300"}, {"offset": 0.96, "color": "#1e9a00"}, {"offset": 1, "color": "#0b5a00"}]}}, "encoding": {"x2": {"field": "x2"}, "y2": {"field": "y2"}}},
 {"data": {"name": "bands"}, "transform": [{"filter": "datum.id === 'b'"}], "mark": {"type": "rect", "color": {"gradient": "linear", "x1": 0, "y1": 0, "x2": 0, "y2": 1, "stops": [{"offset": 0, "color": "#1d2f8a"}, {"offset": 0.04, "color": "#4262d4"}, {"offset": 0.5, "color": "#4668dc"}, {"offset": 0.96, "color": "#4262d4"}, {"offset": 1, "color": "#1d2f8a"}]}}, "encoding": {"x2": {"field": "x2"}, "y2": {"field": "y2"}}},
 {"data": {"name": "bands"}, "transform": [{"filter": "datum.id === 'pl'"}], "mark": {"type": "rect", "color": {"gradient": "linear", "x1": 0, "y1": 0, "x2": 0, "y2": 1, "stops": [{"offset": 0, "color": "#8a0045"}, {"offset": 0.06, "color": "#e4007a"}, {"offset": 0.94, "color": "#e4007a"}, {"offset": 1, "color": "#8a0045"}]}}, "encoding": {"x2": {"field": "x2"}, "y2": {"field": "y2"}}},
 {"data": {"name": "bands"}, "transform": [{"filter": "datum.id === 'pr'"}], "mark": {"type": "rect", "color": {"gradient": "linear", "x1": 0, "y1": 0, "x2": 0, "y2": 1, "stops": [{"offset": 0, "color": "#7a003c"}, {"offset": 0.04, "color": "#d4006c"}, {"offset": 0.96, "color": "#d4006c"}, {"offset": 1, "color": "#7a003c"}]}}, "encoding": {"x2": {"field": "x2"}, "y2": {"field": "y2"}}},
 {"data": {"name": "spikesTop"}, "mark": {"type": "rule", "strokeWidth": 5.5}, "encoding": {"y2": {"datum": 7.17}, "color": {"field": "k", "type": "nominal", "scale": {"domain": ["d", "l"], "range": ["#3d2400", "#a5957f"]}, "legend": null}}},
 {"data": {"name": "spikesBot"}, "mark": {"type": "rule", "strokeWidth": 5.5}, "encoding": {"y2": {"datum": 5.74}, "color": {"field": "k", "type": "nominal", "scale": {"domain": ["d", "l"], "range": ["#3d2400", "#a5957f"]}, "legend": null}}},
 {"data": {"name": "strips"}, "mark": {"type": "rect", "color": "#4a2c08"}, "encoding": {"x2": {"field": "x2"}, "y2": {"field": "y2"}}},
 {"data": {"name": "borderH"}, "mark": {"type": "rule", "color": "#5a5a5a", "strokeWidth": 4}, "encoding": {"x2": {"field": "x2"}}},
 {"data": {"name": "borderV"}, "mark": {"type": "rule", "color": "#333333", "strokeWidth": 3.5}, "encoding": {"y2": {"field": "y2"}}},
 {"data": {"name": "chBoxes"}, "mark": {"type": "rect", "color": "white"}, "encoding": {"x2": {"field": "x2"}, "y2": {"field": "y2"}}},
 {"data": {"name": "chBoxes"}, "mark": {"type": "text", "font": "Liberation Sans", "fontSize": 46, "align": "center", "baseline": "alphabetic"}, "encoding": {"x": {"datum": 0.1096}, "y": {"field": "yt"}, "text": {"field": "ch"}, "color": {"field": "ch", "type": "nominal", "scale": {"domain": ["1", "2", "3", "4"], "range": ["#ffa020", "#33cc33", "#6688ff", "#ff3399"]}, "legend": null}}},
 {"data": {"name": "ground"}, "mark": {"type": "rule", "strokeWidth": 3}, "encoding": {"x2": {"field": "x2"}, "y2": {"field": "y2"}, "color": {"field": "ch", "type": "nominal", "scale": {"domain": ["1", "2", "3", "4"], "range": ["#ffa020", "#33cc33", "#6688ff", "#ff3399"]}, "legend": null}}},
 {"data": {"name": "chArrows"}, "mark": {"type": "point", "filled": true, "opacity": 1, "size": 900, "shape": "M-0.57,-1L0.57,0L-0.57,1Z"}, "encoding": {"color": {"field": "ch", "type": "nominal", "scale": {"domain": ["1", "2", "3", "4"], "range": ["#ffa020", "#33cc33", "#6688ff", "#ff3399"]}, "legend": null}}},
 {"data": {"name": "chNums"}, "mark": {"type": "text", "font": "Liberation Sans", "fontSize": 44, "align": "center", "baseline": "alphabetic"}, "encoding": {"text": {"field": "t"}, "color": {"field": "ch", "type": "nominal", "scale": {"domain": ["1", "2", "3", "4"], "range": ["#ffa020", "#33cc33", "#6688ff", "#ff3399"]}, "legend": null}}},
 {"data": {"name": "labelBoxes"}, "mark": {"type": "rect", "fill": "white", "stroke": "black", "strokeWidth": 2.5}, "encoding": {"x2": {"field": "x2"}, "y2": {"field": "y2"}}},
 {"data": {"name": "labelBig"}, "mark": {"type": "text", "font": "Liberation Serif", "fontWeight": "bold", "fontStyle": "italic", "fontSize": 160, "align": "left", "baseline": "alphabetic"}, "encoding": {"text": {"field": "t"}, "color": {"field": "s", "type": "nominal", "scale": {"domain": ["vt", "it", "vr", "ir"], "range": ["#f4a05a", "#00aa50", "#0070c0", "#ff0000"]}, "legend": null}}},
 {"data": {"name": "labelSub"}, "mark": {"type": "text", "font": "Liberation Serif", "fontWeight": "bold", "fontStyle": "italic", "fontSize": 105, "align": "left", "baseline": "alphabetic"}, "encoding": {"text": {"field": "t"}, "color": {"field": "s", "type": "nominal", "scale": {"domain": ["vt", "it", "vr", "ir"], "range": ["#f4a05a", "#00aa50", "#0070c0", "#ff0000"]}, "legend": null}}},
 {"data": {"name": "headVals"}, "mark": {"type": "text", "font": "Liberation Sans", "fontSize": 50, "align": "left", "baseline": "alphabetic", "color": "#3d3d3d"}, "encoding": {"text": {"field": "t"}}},
 {"data": {"name": "headValsR"}, "mark": {"type": "text", "font": "Liberation Sans", "fontSize": 50, "align": "right", "baseline": "alphabetic", "color": "#3d3d3d"}, "encoding": {"text": {"field": "t"}}},
 {"data": {"name": "headM"}, "mark": {"type": "text", "font": "Liberation Sans", "fontSize": 21, "align": "left", "baseline": "alphabetic", "color": "#3d3d3d"}, "encoding": {"text": {"field": "t"}}},
 {"data": {"name": "headS"}, "mark": {"type": "text", "font": "Liberation Sans", "fontSize": 26, "fontWeight": "bold", "align": "left", "baseline": "alphabetic", "color": "#3d3d3d"}, "encoding": {"text": {"field": "t"}}},
 {"data": {"name": "headChBig"}, "mark": {"type": "text", "font": "Liberation Sans", "fontSize": 54, "align": "center", "baseline": "alphabetic"}, "encoding": {"text": {"field": "t"}, "color": {"field": "ch", "type": "nominal", "scale": {"domain": ["1", "2", "3", "4"], "range": ["#ffb040", "#33cc33", "#7a98ff", "#ff3399"]}, "legend": null}}},
 {"data": {"name": "headChSmall"}, "mark": {"type": "text", "font": "Liberation Sans", "fontSize": 42, "align": "center", "baseline": "alphabetic"}, "encoding": {"text": {"field": "t"}, "color": {"field": "ch", "type": "nominal", "scale": {"domain": ["1", "2", "3", "4"], "range": ["#ffb040", "#33cc33", "#7a98ff", "#ff3399"]}, "legend": null}}},
 {"data": {"name": "headBars"}, "mark": {"type": "rule", "strokeWidth": 4}, "encoding": {"x2": {"field": "x2"}, "color": {"field": "ch", "type": "nominal", "scale": {"domain": ["1", "2", "3", "4"], "range": ["#ffb040", "#33cc33", "#7a98ff", "#ff3399"]}, "legend": null}}},
 {"data": {"name": "trigFilled"}, "mark": {"type": "point", "filled": true, "opacity": 1, "size": 900, "color": "#ff8c00", "shape": "M-1,-0.6L1,-0.6L0,0.6Z"}},
 {"data": {"name": "trigHollow"}, "mark": {"type": "point", "filled": false, "opacity": 1, "size": 900, "color": "#ff8c00", "strokeWidth": 3, "shape": "M-1,-0.6L1,-0.6L0,0.6Z"}},
 {"data": {"name": "annoArrowShaft"}, "mark": {"type": "rule", "color": "black", "strokeWidth": 11, "strokeCap": "round"}, "encoding": {"y2": {"field": "y2"}}},
 {"data": {"name": "annoArrowHead"}, "mark": {"type": "point", "filled": true, "opacity": 1, "size": 3600, "color": "black", "shape": "M0,-1L0.6,1L-0.6,1Z"}},
 {"data": {"name": "annoBoldItalic"}, "mark": {"type": "text", "font": "Liberation Serif", "fontWeight": "bold", "fontStyle": "italic", "fontSize": 78, "align": "left", "baseline": "alphabetic", "color": "black"}, "encoding": {"text": {"field": "t"}}},
 {"data": {"name": "annoSub"}, "mark": {"type": "text", "font": "Liberation Serif", "fontWeight": "bold", "fontStyle": "italic", "fontSize": 52, "align": "left", "baseline": "alphabetic", "color": "black"}, "encoding": {"text": {"field": "t"}}},
 {"data": {"name": "annoBold"}, "mark": {"type": "text", "font": "Liberation Serif", "fontWeight": "bold", "fontSize": 78, "align": "left", "baseline": "alphabetic", "color": "black"}, "encoding": {"text": {"field": "t"}}},
 {"data": {"name": "annoReg"}, "mark": {"type": "text", "font": "Liberation Serif", "fontSize": 78, "align": "left", "baseline": "alphabetic", "color": "black"}, "encoding": {"text": {"field": "t"}}},
 {"data": {"name": "annoArrowSym"}, "mark": {"type": "text", "font": "DejaVu Sans", "fontSize": 80, "align": "left", "baseline": "middle", "color": "black"}, "encoding": {"text": {"field": "t"}}}
]
}
